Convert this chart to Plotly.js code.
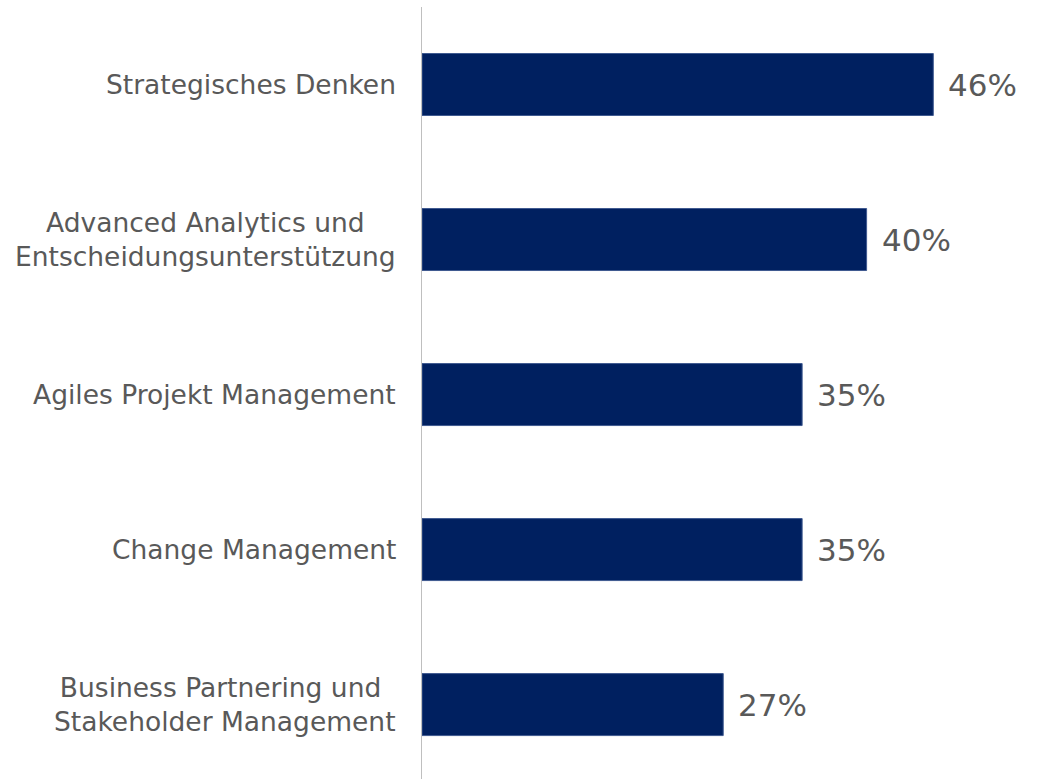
<!DOCTYPE html>
<html>
<head>
<meta charset="utf-8">
<script src="https://cdn.plot.ly/plotly-3.0.1.min.js"></script>
<style>html,body{margin:0;padding:0;background:#fff;}#chart{width:1040px;height:779px;}</style>
</head>
<body>
<div id="chart"></div>
<script>
var categories = [
  "Strategisches Denken",
  "Advanced Analytics und<br>Entscheidungsunterstützung",
  "Agiles Projekt Management",
  "Change Management",
  "Business Partnering und <br>Stakeholder Management"
];
var values = [46.0, 40.0, 34.2, 34.2, 27.1];
var valueLabels = ["46%", "40%", "35%", "35%", "27%"];

var font = "DejaVu Sans, Verdana, sans-serif";
var grey = "#595959";

var trace = {
  type: "bar",
  orientation: "h",
  y: categories.map(function(c, i){ return i; }),
  x: values,
  width: 0.4,
  marker: { color: "#002060", line: { color: "#3f5a90", width: 1 } },
  hoverinfo: "skip"
};

var annotations = [];
categories.forEach(function(c, i){
  annotations.push({
    xref: "paper", yref: "y", x: 0, y: i,
    text: c, showarrow: false, xanchor: "right", yanchor: "middle",
    align: "center", xshift: -24,
    font: { family: font, size: 26.5, color: grey }
  });
  annotations.push({
    xref: "x", yref: "y", x: values[i], y: i,
    text: valueLabels[i], showarrow: false, xanchor: "left", yanchor: "middle",
    xshift: 13,
    font: { family: font, size: 31, color: grey }
  });
});

var layout = {
  width: 1040, height: 779,
  margin: { l: 422, r: 0, t: 7, b: 0, pad: 0 },
  paper_bgcolor: "#ffffff", plot_bgcolor: "#ffffff",
  showlegend: false,
  xaxis: { range: [0, 55.6], visible: false, fixedrange: true },
  yaxis: {
    range: [4.48, -0.5],
    showticklabels: false, ticks: "", showgrid: false, zeroline: false,
    showline: true, linecolor: "#bfbfbf", linewidth: 1, fixedrange: true
  },
  annotations: annotations
};

Plotly.newPlot("chart", [trace], layout, { displayModeBar: false, staticPlot: true });
</script>
</body>
</html>
